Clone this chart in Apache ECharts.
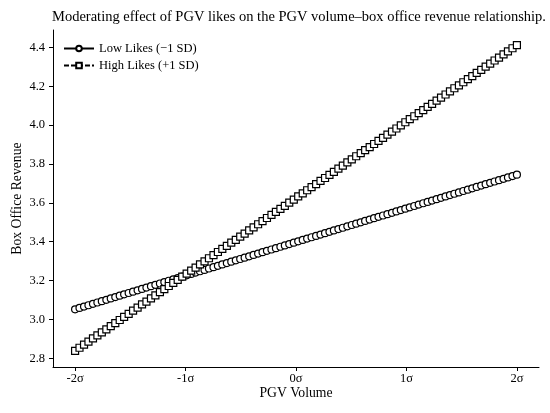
<!DOCTYPE html>
<html>
<head>
<meta charset="utf-8">
<script src="https://cdn.jsdelivr.net/npm/echarts@6/dist/echarts.min.js"></script>
<style>
  html, body { margin: 0; padding: 0; background: #fff; }
  #chart { width: 550px; height: 413px; }
</style>
</head>
<body>
<div id="chart"></div>
<script>
// PGV volume in SD units (100 points from -2 to 2)
var pgvVolume = [
  -2.000, -1.960, -1.919, -1.879, -1.838, -1.798, -1.758, -1.717, -1.677, -1.636,
  -1.596, -1.556, -1.515, -1.475, -1.434, -1.394, -1.354, -1.313, -1.273, -1.232,
  -1.192, -1.152, -1.111, -1.071, -1.030, -0.990, -0.949, -0.909, -0.869, -0.828,
  -0.788, -0.747, -0.707, -0.667, -0.626, -0.586, -0.545, -0.505, -0.465, -0.424,
  -0.384, -0.343, -0.303, -0.263, -0.222, -0.182, -0.141, -0.101, -0.061, -0.020,
  0.020, 0.061, 0.101, 0.141, 0.182, 0.222, 0.263, 0.303, 0.343, 0.384,
  0.424, 0.465, 0.505, 0.545, 0.586, 0.626, 0.667, 0.707, 0.747, 0.788,
  0.828, 0.869, 0.909, 0.949, 0.990, 1.030, 1.071, 1.111, 1.152, 1.192,
  1.232, 1.273, 1.313, 1.354, 1.394, 1.434, 1.475, 1.515, 1.556, 1.596,
  1.636, 1.677, 1.717, 1.758, 1.798, 1.838, 1.879, 1.919, 1.960, 2.000
];

// 低点赞 (-1 SD)
var lowLikes = [
  3.052, 3.059, 3.066, 3.073, 3.080, 3.087, 3.094, 3.101, 3.108, 3.115,
  3.122, 3.129, 3.136, 3.143, 3.150, 3.157, 3.164, 3.171, 3.178, 3.185,
  3.192, 3.199, 3.206, 3.213, 3.220, 3.227, 3.234, 3.241, 3.248, 3.255,
  3.262, 3.269, 3.276, 3.283, 3.290, 3.297, 3.304, 3.311, 3.318, 3.325,
  3.332, 3.339, 3.346, 3.353, 3.360, 3.367, 3.374, 3.381, 3.388, 3.395,
  3.402, 3.409, 3.416, 3.423, 3.430, 3.437, 3.444, 3.451, 3.458, 3.465,
  3.472, 3.479, 3.486, 3.493, 3.500, 3.507, 3.514, 3.521, 3.528, 3.535,
  3.542, 3.549, 3.556, 3.563, 3.570, 3.577, 3.584, 3.591, 3.598, 3.605,
  3.612, 3.619, 3.626, 3.633, 3.640, 3.647, 3.654, 3.661, 3.668, 3.675,
  3.682, 3.689, 3.696, 3.703, 3.710, 3.717, 3.724, 3.731, 3.738, 3.745
];

// 高点赞 (+1 SD)
var highLikes = [
  2.838, 2.854, 2.870, 2.886, 2.902, 2.918, 2.933, 2.949, 2.965, 2.981,
  2.997, 3.013, 3.029, 3.045, 3.061, 3.077, 3.092, 3.108, 3.124, 3.140,
  3.156, 3.172, 3.188, 3.204, 3.220, 3.236, 3.251, 3.267, 3.283, 3.299,
  3.315, 3.331, 3.347, 3.363, 3.379, 3.395, 3.410, 3.426, 3.442, 3.458,
  3.474, 3.490, 3.506, 3.522, 3.538, 3.554, 3.569, 3.585, 3.601, 3.617,
  3.633, 3.649, 3.665, 3.681, 3.697, 3.713, 3.728, 3.744, 3.760, 3.776,
  3.792, 3.808, 3.824, 3.840, 3.856, 3.872, 3.887, 3.903, 3.919, 3.935,
  3.951, 3.967, 3.983, 3.999, 4.015, 4.031, 4.046, 4.062, 4.078, 4.094,
  4.110, 4.126, 4.142, 4.158, 4.174, 4.190, 4.205, 4.221, 4.237, 4.253,
  4.269, 4.285, 4.301, 4.317, 4.333, 4.348, 4.364, 4.380, 4.396, 4.412
];

var xTickValues = [-2, -1, 0, 1, 2];
var xTickLabels = ['-2σ', '-1σ', '0σ', '1σ', '2σ'];
var yTickValues = [2.8, 3.0, 3.2, 3.4, 3.6, 3.8, 4.0, 4.2, 4.4];

var serif = '"Liberation Serif", "Times New Roman", serif';

function pairs(xs, ys) {
    return xs.map(function (x, i) { return [x, ys[i]]; });
}

var myChart = echarts.init(document.getElementById('chart'));
var option = {
    animation: false,
    title: {
        text: 'Moderating effect of PGV likes on the PGV volume–box office revenue relationship.',
        left: 294,
        textAlign: 'center',
        top: 5,
        textStyle: { fontFamily: serif, fontSize: 14.5, fontWeight: 'normal', color: '#000' }
    },
    legend: {
        left: 58,
        top: 37,
        orient: 'vertical',
        itemWidth: 30,
        itemHeight: 7,
        itemGap: 4,
        textStyle: { fontFamily: serif, fontSize: 12.5, color: '#000' },
        data: ['Low Likes (\u22121 SD)', 'High Likes (+1 SD)']
    },
    grid: { left: 53, right: 11, top: 30, bottom: 46, containLabel: false, outerBoundsMode: 'none' },
    xAxis: {
        type: 'value',
        min: -2.2,
        max: 2.2,
        name: 'PGV Volume',
        nameLocation: 'middle',
        nameGap: 19,
        nameMoveOverlap: false,
        nameTextStyle: { fontFamily: serif, fontSize: 13.7, color: '#000' },
        splitLine: { show: false },
        axisLine: { onZero: false, lineStyle: { color: '#000', width: 1 } },
        axisTick: { customValues: xTickValues, length: 4, lineStyle: { color: '#000' } },
        axisLabel: {
            customValues: xTickValues,
            margin: 5,
            fontFamily: serif,
            fontSize: 12.5,
            color: '#000',
            formatter: function (v) { return xTickLabels[xTickValues.indexOf(Math.round(v))]; }
        }
    },
    yAxis: {
        type: 'value',
        min: 2.755,
        max: 4.49,
        name: 'Box Office Revenue',
        nameLocation: 'middle',
        nameGap: 29,
        nameMoveOverlap: false,
        nameTextStyle: { fontFamily: serif, fontSize: 13.7, color: '#000' },
        splitLine: { show: false },
        axisLine: { show: true, onZero: false, lineStyle: { color: '#000', width: 1 } },
        axisTick: { show: true, customValues: yTickValues, length: 4, lineStyle: { color: '#000' } },
        axisLabel: {
            customValues: yTickValues,
            margin: 8,
            fontFamily: serif,
            fontSize: 12.5,
            color: '#000',
            formatter: function (v) { return v.toFixed(1); }
        }
    },
    series: [
        {
            name: 'Low Likes (\u22121 SD)',
            type: 'line',
            data: pairs(pgvVolume, lowLikes),
            symbol: 'circle',
            symbolSize: 7,
            lineStyle: { color: '#000', width: 1.5, type: 'solid' },
            itemStyle: { color: '#fff', borderColor: '#000', borderWidth: 1.2 },
            emphasis: { disabled: true }
        },
        {
            name: 'High Likes (+1 SD)',
            type: 'line',
            data: pairs(pgvVolume, highLikes),
            symbol: 'rect',
            symbolSize: 7,
            lineStyle: { color: '#000', width: 1.5, type: [5, 2] },
            itemStyle: { color: '#fff', borderColor: '#000', borderWidth: 1.2 },
            emphasis: { disabled: true }
        }
    ]
};
myChart.setOption(option);
</script>
</body>
</html>
